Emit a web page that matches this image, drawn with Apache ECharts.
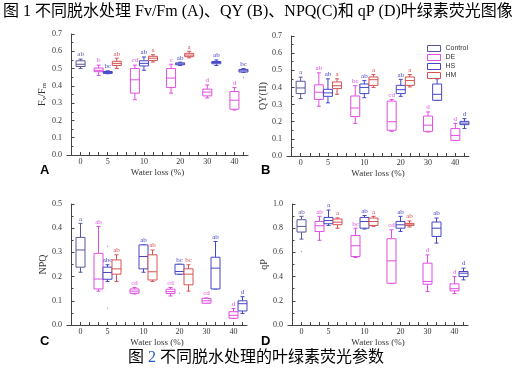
<!DOCTYPE html>
<html>
<head>
<meta charset="utf-8">
<script src="https://cdn.jsdelivr.net/npm/echarts@6/dist/echarts.min.js"></script>
<style>
html,body{margin:0;padding:0;background:#fff;}
#chart{width:521px;height:375px;}
</style>
</head>
<body>
<div id="chart"></div>
<script>
// x 轴刻度标签（脱水程度）和它们所在的位置
var lossLabels = ['0', '5', '10', '20', '30', '40'];
var lossSlots = [1, 4, 8, 12, 15, 18];
// 各处理箱体所在位置
var controlSlots = [1];
var deSlots = [3, 7, 11, 15, 18];
var hsSlots = [4, 8, 12, 16, 19];
var hmSlots = [5, 9, 13];

// 箱线数据 [min, Q1, median, Q3, max]
// A  Fv/Fm
var fvfmControl = [[0.50, 0.512, 0.525, 0.545, 0.555]];
var fvfmDE = [[0.46, 0.482, 0.49, 0.503, 0.52], [0.32, 0.358, 0.435, 0.50, 0.52], [0.358, 0.39, 0.445, 0.50, 0.525], [0.33, 0.342, 0.364, 0.381, 0.405], [0.26, 0.265, 0.317, 0.367, 0.39]];
var fvfmHS = [[0.47, 0.472, 0.477, 0.483, 0.487], [0.49, 0.515, 0.53, 0.545, 0.567], [0.518, 0.522, 0.527, 0.533, 0.537], [0.518, 0.528, 0.535, 0.541, 0.55], [0.478, 0.48, 0.487, 0.495, 0.50]];
var fvfmHM = [[0.50, 0.518, 0.53, 0.542, 0.56], [0.538, 0.547, 0.56, 0.571, 0.58], [0.562, 0.569, 0.578, 0.588, 0.60]];
var fvfmLetters = {Control: ['ab'], DE: ['b', 'cd', 'c', 'd', 'd'], HS: ['bc', 'ab', 'ab', 'ab', 'bc'], HM: ['ab', 'a', 'a']};
// B  QY(II)
var qyControl = [[0.335, 0.364, 0.397, 0.436, 0.46]];
var qyDE = [[0.29, 0.33, 0.372, 0.415, 0.485], [0.19, 0.23, 0.28, 0.35, 0.41], [0.144, 0.15, 0.20, 0.32, 0.33], [0.14, 0.144, 0.18, 0.233, 0.257], [0.09, 0.091, 0.12, 0.16, 0.19]];
var qyHS = [[0.31, 0.348, 0.368, 0.389, 0.45], [0.34, 0.364, 0.40, 0.42, 0.44], [0.348, 0.364, 0.387, 0.412, 0.447], [0.325, 0.325, 0.36, 0.42, 0.45], [0.16, 0.183, 0.192, 0.202, 0.218]];
var qyHM = [[0.36, 0.393, 0.41, 0.432, 0.45], [0.40, 0.412, 0.445, 0.461, 0.475], [0.403, 0.412, 0.44, 0.461, 0.475]];
var qyLetters = {Control: ['a'], DE: ['ab', 'bc', 'cd', 'd', 'd'], HS: ['ab', 'ab', 'ab', 'ab', 'd'], HM: ['a', 'a', 'a']};
// C  NPQ
var npqControl = [[0.218, 0.239, 0.31, 0.362, 0.42]];
var npqDE = [[0.14, 0.149, 0.19, 0.296, 0.407], [0.128, 0.131, 0.14, 0.149, 0.155], [0.12, 0.13, 0.138, 0.148, 0.155], [0.09, 0.09, 0.10, 0.11, 0.112], [0.027, 0.028, 0.04, 0.055, 0.068]];
var npqHS = [[0.18, 0.189, 0.217, 0.239, 0.249], [0.218, 0.232, 0.283, 0.331, 0.331], [0.21, 0.21, 0.221, 0.251, 0.251], [0.149, 0.149, 0.235, 0.28, 0.345], [0.048, 0.058, 0.088, 0.10, 0.117]];
var npqHM = [[0.18, 0.21, 0.232, 0.269, 0.29], [0.18, 0.186, 0.22, 0.29, 0.31], [0.14, 0.166, 0.21, 0.232, 0.249]];
var npqLetters = {Control: ['a'], DE: ['ab', 'cd', 'cd', 'cd', 'd'], HS: ['abc', 'ab', 'bc', 'ab', 'd'], HM: ['ab', 'ab', 'bc']};
// D  qP
var qpControl = [[0.71, 0.768, 0.815, 0.87, 0.898]];
var qpDE = [[0.70, 0.773, 0.82, 0.856, 0.898], [0.558, 0.566, 0.655, 0.74, 0.80], [0.345, 0.345, 0.53, 0.713, 0.787], [0.276, 0.337, 0.36, 0.511, 0.58], [0.26, 0.282, 0.30, 0.34, 0.40]];
var qpHS = [[0.823, 0.837, 0.863, 0.889, 0.95], [0.793, 0.80, 0.855, 0.889, 0.905], [0.773, 0.80, 0.828, 0.856, 0.898], [0.677, 0.732, 0.80, 0.851, 0.884], [0.373, 0.40, 0.428, 0.442, 0.47]];
var qpHM = [[0.80, 0.829, 0.85, 0.876, 0.885], [0.815, 0.823, 0.855, 0.884, 0.898], [0.81, 0.823, 0.834, 0.84, 0.86]];
var qpLetters = {Control: ['ab'], DE: ['ab', 'bc', 'cd', 'd', 'd'], HS: ['a', 'ab', 'ab', 'ab', 'd'], HM: ['a', 'a', 'ab']};

// 离群点 [位置, 值]
var fvfmOutliers = [[19, 0.449]];
var npqOutliers = [[4, 0.325], [4, 0.069], [12, 0.131]];
var qpOutliers = [[1, 0.608]];

var colors = {Control: '#58589c', DE: '#e04ee0', HS: '#4646c6', HM: '#d65252'};
var serif = "'Liberation Serif','Times New Roman',serif";
var cjk = "'Liberation Serif','Noto Sans CJK SC',sans-serif";

var panels = [
	{grid: {left: 67, top: 34, width: 181, height: 121}, max: 0.7, interval: 0.1, name: '{a|F}{s|v}{a|/F}{s|m}', nameGap: 19,
		sets: {Control: fvfmControl, DE: fvfmDE, HS: fvfmHS, HM: fvfmHM}, letters: fvfmLetters, outliers: fvfmOutliers},
	{grid: {left: 287, top: 36, width: 182, height: 120}, max: 0.7, interval: 0.1, name: 'QY(II)', nameGap: 18,
		sets: {Control: qyControl, DE: qyDE, HS: qyHS, HM: qyHM}, letters: qyLetters, outliers: []},
	{grid: {left: 67, top: 204, width: 180, height: 121}, max: 0.5, interval: 0.1, name: 'NPQ', nameGap: 19,
		sets: {Control: npqControl, DE: npqDE, HS: npqHS, HM: npqHM}, letters: npqLetters, outliers: npqOutliers},
	{grid: {left: 288, top: 204, width: 180, height: 121}, max: 1.0, interval: 0.2, name: 'qP', nameGap: 17,
		sets: {Control: qpControl, DE: qpDE, HS: qpHS, HM: qpHM}, letters: qpLetters, outliers: qpOutliers}
];
var slotsOf = {Control: controlSlots, DE: deSlots, HS: hsSlots, HM: hmSlots};
var allSlots = [];
for (var k = 0; k < 20; k++) allSlots.push(k);

function makeBox(letters){
	return function(params, api){
		var x = api.value(0);
		var lo = api.coord([x, api.value(1)]);
		var q1 = api.coord([x, api.value(2)]);
		var med = api.coord([x, api.value(3)]);
		var q3 = api.coord([x, api.value(4)]);
		var hi = api.coord([x, api.value(5)]);
		var color = api.visual('color');
		var hw = 4.5, cw = 2;
		var st = {stroke: color, fill: null, lineWidth: 1};
		return {type: 'group', children: [
			{type: 'line', shape: {x1: hi[0], y1: hi[1], x2: q3[0], y2: q3[1]}, style: st},
			{type: 'line', shape: {x1: lo[0], y1: lo[1], x2: q1[0], y2: q1[1]}, style: st},
			{type: 'line', shape: {x1: hi[0] - cw, y1: hi[1], x2: hi[0] + cw, y2: hi[1]}, style: st},
			{type: 'line', shape: {x1: lo[0] - cw, y1: lo[1], x2: lo[0] + cw, y2: lo[1]}, style: st},
			{type: 'rect', shape: {x: q3[0] - hw, y: q3[1], width: hw * 2, height: q1[1] - q3[1]}, style: {stroke: color, fill: '#fff', lineWidth: 1}},
			{type: 'line', shape: {x1: med[0] - hw, y1: med[1], x2: med[0] + hw, y2: med[1]}, style: st},
			{type: 'text', style: {text: letters[params.dataIndex], x: hi[0], y: hi[1] - 1, align: 'center', verticalAlign: 'bottom',
				fill: color, font: '7px ' + serif}}
		]};
	};
}

var option = {
	animation: false,
	grid: [], xAxis: [], yAxis: [], series: [],
	legend: {
		left: 422, top: 40, orient: 'vertical', itemWidth: 13, itemHeight: 6, itemGap: 2,
		textStyle: {fontSize: 7, color: '#333', fontFamily: "'Liberation Sans',Arial,sans-serif"},
		data: ['Control', 'DE', 'HS', 'HM'].map(function(n){
			return {name: n, icon: 'rect', itemStyle: {color: '#fff', borderColor: colors[n], borderWidth: 1}};
		})
	},
	graphic: [
		{type: 'text', left: 3, top: 4, style: {text: '图 1 不同脱水处理 Fv/Fm (A)、QY (B)、NPQ(C)和 qP (D)叶绿素荧光图像', font: '16px ' + cjk, fill: '#000'}},
		{type: 'text', left: 128, top: 350, style: {text: '图 {b|2} 不同脱水处理的叶绿素荧光参数', font: '16px ' + cjk, fill: '#000',
			rich: {b: {fill: '#2a5cc0', font: '16px ' + cjk}}}},
		{type: 'text', left: 40, top: 164, style: {text: 'A', font: 'bold 13px Liberation Sans, Arial', fill: '#000'}},
		{type: 'text', left: 261, top: 164, style: {text: 'B', font: 'bold 13px Liberation Sans, Arial', fill: '#000'}},
		{type: 'text', left: 40, top: 335, style: {text: 'C', font: 'bold 13px Liberation Sans, Arial', fill: '#000'}},
		{type: 'text', left: 261, top: 335, style: {text: 'D', font: 'bold 13px Liberation Sans, Arial', fill: '#000'}}
	]
};

panels.forEach(function(p, i){
	option.grid.push(p.grid);
	option.xAxis.push({
		gridIndex: i, type: 'value', min: -0.5, max: 19.5,
		name: 'Water loss (%)', nameLocation: 'middle', nameGap: 13,
		nameTextStyle: {fontFamily: serif, fontSize: 9, color: '#333'},
		axisLine: {lineStyle: {color: '#444'}},
		axisTick: {inside: true, length: 3, customValues: allSlots, lineStyle: {color: '#444'}},
		axisLabel: {customValues: lossSlots, fontFamily: serif, fontSize: 8, color: '#333', margin: 3,
			formatter: function(v){ var j = lossSlots.indexOf(Math.round(v)); return j < 0 ? '' : lossLabels[j]; }},
		splitLine: {show: false}
	});
	option.yAxis.push({
		gridIndex: i, type: 'value', min: 0, max: p.max, interval: p.interval,
		name: p.name, nameLocation: 'middle', nameGap: p.nameGap,
		nameTextStyle: {fontFamily: serif, fontSize: 10, color: '#333',
			rich: {a: {fontFamily: serif, fontSize: 10, color: '#333'}, s: {fontFamily: serif, fontSize: 7, color: '#333', padding: [5, 0, 0, 0]}}},
		axisLine: {show: true, lineStyle: {color: '#444'}},
		axisTick: {show: true, inside: true, length: 3, lineStyle: {color: '#444'}},
		minorTick: {show: true, splitNumber: 2, length: 2, lineStyle: {color: '#444'}},
		axisLabel: {fontFamily: serif, fontSize: 8, color: '#333', margin: 5,
			formatter: function(v){ return v.toFixed(1); }},
		splitLine: {show: false}
	});
	['Control', 'DE', 'HS', 'HM'].forEach(function(n){
		var slots = slotsOf[n];
		var data = p.sets[n].map(function(b, j){ return [slots[j]].concat(b); });
		option.series.push({
			name: n, type: 'custom', xAxisIndex: i, yAxisIndex: i,
			itemStyle: {color: colors[n]},
			renderItem: makeBox(p.letters[n]),
			encode: {x: 0, y: [1, 2, 3, 4, 5]},
			data: data
		});
	});
	if (p.outliers.length) {
		option.series.push({
			name: 'outlier' + i, type: 'scatter', xAxisIndex: i, yAxisIndex: i,
			symbolSize: 1.5, itemStyle: {color: '#8888bb'},
			data: p.outliers
		});
	}
});

var myChart = echarts.init(document.getElementById('chart'));
myChart.setOption(option);
</script>
</body>
</html>
